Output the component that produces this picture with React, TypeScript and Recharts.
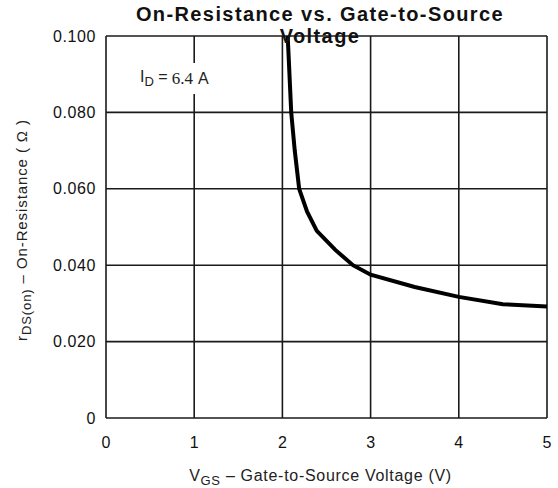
import { LineChart, Line, XAxis, YAxis, CartesianGrid } from 'recharts'

const vgs = [2.06, 2.08, 2.1, 2.14, 2.19, 2.28, 2.39, 2.6, 2.8, 3.0, 3.5, 4.0, 4.5, 5.0]
const rds = [0.1, 0.09, 0.08, 0.07, 0.06, 0.054, 0.049, 0.044, 0.04, 0.0375, 0.0343, 0.0317, 0.0298, 0.0292]
const xTicks = [0, 1, 2, 3, 4, 5]
const yTicks = [0, 0.02, 0.04, 0.06, 0.08, 0.1]

const data = vgs.map((v, i) => ({ vgs: v, rds: rds[i] }))

const font = "'Liberation Sans', Arial, sans-serif"

const XLabel = ({ viewBox }: any) => {
  const cx = viewBox.x + viewBox.width / 2 - 6
  return (
    <text x={cx} y={viewBox.y + 63} textAnchor="middle" fontSize={16} fill="#222" fontFamily={font} letterSpacing={0.7}>
      <tspan>V</tspan>
      <tspan fontSize={13} dy={4}>GS</tspan>
      <tspan dy={-4}> – Gate-to-Source Voltage (V)</tspan>
    </text>
  )
}

const YLabel = ({ viewBox }: any) => {
  const cy = viewBox.y + viewBox.height / 2
  const cx = 27
  const cyy = cy + 3
  return (
    <text x={cx} y={cyy} transform={`rotate(-90 ${cx} ${cyy})`} textAnchor="middle" fontSize={15} fill="#222" fontFamily={font} letterSpacing={0.9}>
      <tspan>r</tspan>
      <tspan fontSize={13} dy={4}>DS(on)</tspan>
      <tspan dy={-4}>{'    –    On-Resistance ( Ω )'}</tspan>
    </text>
  )
}

export default function App() {
  return (
    <div style={{ position: 'absolute', left: 0, top: 0, width: 558, height: 488, background: '#fff' }}>
      <LineChart width={558} height={488} data={data} margin={{ top: 36, right: 11, left: 0, bottom: 30 }}>
        <CartesianGrid stroke="#1a1a1a" strokeWidth={1.6} />
        <XAxis
          dataKey="vgs" type="number" domain={[0, 5]} ticks={xTicks}
          axisLine={false} tickLine={false} height={40} tickMargin={13}
          tick={{ fontSize: 16, fill: '#111', fontFamily: font }}
          label={<XLabel />}
        />
        <YAxis
          dataKey="rds" type="number" domain={[0, 0.1]} ticks={yTicks} width={106}
          axisLine={false} tickLine={false} tickMargin={4}
          tickFormatter={(v: number) => (v === 0 ? '0' : v.toFixed(3))}
          tick={{ fontSize: 16, fill: '#111', fontFamily: font, letterSpacing: 0.6 }}
          label={<YLabel />}
        />
        <Line type="linear" dataKey="rds" stroke="#000" strokeWidth={4} dot={false} isAnimationActive={false} />
      </LineChart>
      <div style={{
        position: 'absolute', left: 0, top: 3, width: 640, textAlign: 'center',
        fontFamily: font, fontWeight: 700, fontSize: 20, lineHeight: '22px', color: '#111', letterSpacing: 1.4,
      }}>
        On-Resistance vs. Gate-to-Source<br />Voltage
      </div>
      <div style={{
        position: 'absolute', left: 137, top: 63, width: 84, height: 31, background: '#fff',
        display: 'flex', alignItems: 'center', fontSize: 16, color: '#222', fontFamily: font,
      }}>
        <span style={{ marginLeft: 3 }}>I<sub style={{ fontSize: 13 }}>D</sub> = </span>
        <span style={{ fontFamily: "'Liberation Serif', serif", fontSize: 17, marginLeft: 4 }}>6.4</span>
        <span style={{ marginLeft: 5 }}>A</span>
      </div>
    </div>
  )
}
